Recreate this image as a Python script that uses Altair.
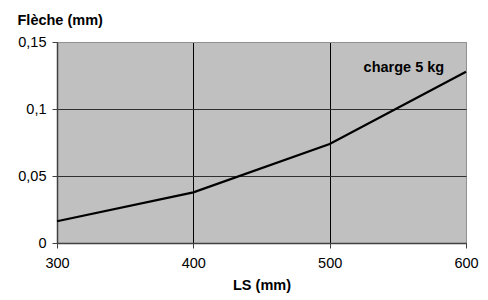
import altair as alt
import pandas as pd

ls_mm = [300, 400, 500, 600]
fleche_mm = [0.0162, 0.0378, 0.0739, 0.1278]
series_label = ["charge 5 kg"]
label_x = [584]
label_y = [0.1305]

df = pd.DataFrame({"LS": ls_mm, "Fleche": fleche_mm})
lab = pd.DataFrame({"x": label_x, "y": label_y, "t": series_label})

FONT = "Liberation Sans"

x_scale = alt.Scale(domain=[300, 600], nice=False, zero=False)
y_scale = alt.Scale(domain=[0, 0.15], nice=False)

line = alt.Chart(df).mark_line(color="black", strokeWidth=2.2).encode(
    x=alt.X("LS:Q", scale=x_scale, axis=alt.Axis(
        title="LS (mm)", values=[300, 400, 500, 600], format="d",
        grid=True,
        gridColor={"condition": {"test": "datum.value == 600 || datum.value == 300", "value": "#909090"}, "value": "black"},
        gridWidth=1,
        domainColor="#404040", domainWidth=1.5,
        tickColor="#404040", tickSize=5, tickWidth=1,
        labelFont=FONT, labelFontSize=14.5, labelColor="black", labelPadding=8,
        labelFlush=False,
        titleFont=FONT, titleFontSize=14.5, titleFontWeight="bold", titleColor="black",
        titleX=204.5, titleY=46, titleBaseline="alphabetic", titleAlign="center",
    )),
    y=alt.Y("Fleche:Q", scale=y_scale, axis=alt.Axis(
        title="Flèche (mm)", values=[0, 0.05, 0.1, 0.15],
        labelExpr="replace(toString(datum.value), '.', ',')",
        grid=True,
        gridColor={"condition": {"test": "datum.value == 0.15 || datum.value == 0", "value": "#909090"}, "value": "#303030"},
        gridWidth=1,
        domainColor="#404040", domainWidth=1.5,
        tickColor="#404040", tickSize=5, tickWidth=1,
        labelFont=FONT, labelFontSize=14.5, labelColor="black", labelPadding=6,
        labelFlush=False,
        titleFont=FONT, titleFontSize=14.5, titleFontWeight="bold", titleColor="black",
        titleAngle=0, titleX=-40, titleY=-18, titleAlign="left", titleBaseline="alphabetic",
    )),
)

text = alt.Chart(lab).mark_text(
    font=FONT, fontSize=14.5, fontWeight="bold", color="black", align="right", baseline="middle"
).encode(
    x=alt.X("x:Q", scale=x_scale),
    y=alt.Y("y:Q", scale=y_scale),
    text="t:N",
)

chart = alt.layer(line, text).properties(
    width=409, height=201,
    autosize=alt.AutoSizeParams(type="none"),
    padding={"left": 49, "top": 34, "right": 14, "bottom": 50},
    background="white",
).configure_view(fill="#c0c0c0", stroke="#909090", strokeWidth=1)

chart.save("out.html", embed_options={"renderer": "svg", "actions": False})
